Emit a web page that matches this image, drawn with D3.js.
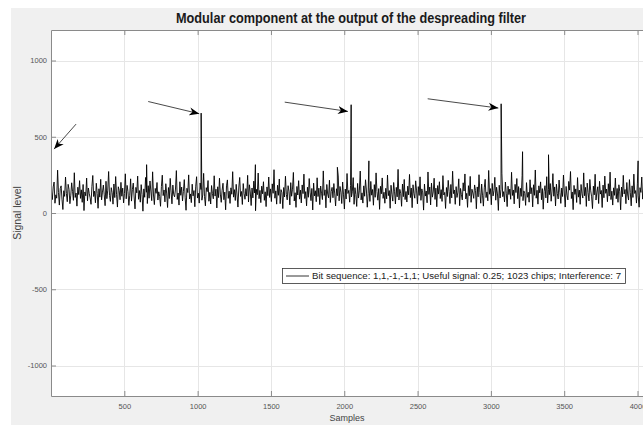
<!DOCTYPE html>
<html>
<head>
<meta charset="utf-8">
<script src="https://cdn.jsdelivr.net/npm/d3@7"></script>
<style>
  html, body { margin: 0; padding: 0; background: #ffffff; }
  svg { display: block; font-family: "Liberation Sans", Arial, sans-serif; }
</style>
</head>
<body>
<div id="chart"></div>
<script>
// despread output magnitude (one value every noiseStep samples)
const noiseStep = 6;
const noise = [
  142,88,171,203,64,119,97,281,133,52,160,178,91,23,146,109,236,127,74,188,
  155,61,117,198,140,83,264,102,131,45,169,121,212,96,152,70,187,16,138,113,
  229,80,164,126,99,57,175,246,108,143,67,195,128,31,159,104,221,86,137,183,
  119,48,208,94,150,272,115,76,166,134,58,190,101,239,123,39,172,149,87,201,
  110,163,66,128,257,93,181,141,50,116,224,78,154,196,105,27,168,132,242,90,
  147,71,186,121,12,158,103,233,136,62,179,97,210,144,81,270,118,55,161,129,
  200,85,139,107,44,174,248,114,151,73,192,125,36,167,95,227,137,60,183,120,
  106,157,278,89,131,52,205,116,170,79,142,219,100,18,162,134,250,92,125,68,
  189,112,147,41,176,238,98,130,65,197,154,84,118,260,107,47,166,140,213,77,
  135,59,180,127,93,244,111,156,33,172,101,228,124,70,149,195,87,137,21,178,
  217,96,143,63,165,123,271,104,153,82,188,118,39,170,233,109,141,56,193,128,
  90,160,111,247,72,185,138,49,164,99,209,131,15,155,120,262,94,148,68,176,
  126,205,83,139,42,171,114,236,102,158,75,191,129,284,97,145,58,182,116,223,
  61,153,134,29,167,105,241,122,86,179,143,53,199,110,156,266,79,133,37,174,
  118,212,91,150,66,184,127,255,95,140,47,169,103,226,137,81,161,20,196,112,
  146,74,231,108,163,55,177,130,88,276,115,152,34,187,124,99,215,69,141,168,
  100,193,125,46,159,113,243,80,174,137,62,203,119,26,157,92,259,128,148,71,
  181,105,139,232,57,166,121,43,194,98,145,275,86,132,65,178,110,218,151,38,
  129,170,76,207,117,154,51,186,103,263,141,84,160,24,175,126,230,96,136,64,
  162,93,249,114,147,31,182,123,78,200,139,59,168,106,286,85,155,130,44,190,
  107,220,88,141,72,176,119,253,101,164,35,185,127,97,211,150,60,173,115,237,
  83,158,132,19,190,111,144,67,269,122,170,53,196,104,138,228,89,163,41,180,
  124,205,95,153,76,245,118,135,30,167,108,214,142,62,187,99,274,127,151,57,
  173,102,137,224,48,161,120,86,198,144,256,92,129,37,179,113,240,70,156,131,
  96,184,148,28,171,106,251,133,64,190,117,45,165,221,101,138,80,279,123,160,
  54,194,112,147,234,84,169,125,17,182,98,156,261,107,140,73,203,130,42,176,
  121,157,90,267,115,151,60,188,134,226,94,173,33,162,109,245,81,145,127,50,
  199,103,136,71,218,126,166,40,185,116,282,97,149,58,178,132,204,87,160,25,
  142,179,99,238,66,155,120,193,77,144,258,110,171,46,189,128,92,216,135,63,
  164,108,249,131,39,174,117,86,207,150,272,95,138,22,181,122,158,69,232,104,
  150,57,187,126,98,263,113,168,43,196,134,79,220,145,106,29,176,119,254,85,
  137,172,62,208,124,148,36,183,100,242,129,157,74,192,111,268,88,143,52,165,
  116,229,93,161,70,185,139,21,170,107,247,125,154,61,200,118,85,219,133,47,
  178,102,255,128,147,65,191,112,38,166,135,236,91,159,76,277,120,144,58,186
];
// correlation peaks and the taller isolated spikes
const peakSamples = [1, 652, 1024, 1394, 1953, 2047, 2168, 3070, 3216, 3393, 4004];
const peakValues  = [415, 317, 655, 317, 300, 710, 342, 716, 402, 382, 342];

const xTicks = [500, 1000, 1500, 2000, 2500, 3000, 3500, 4000];
const yTicks = [-1000, -500, 0, 500, 1000];

// arrows in data units: [x from, y from, x to, y to]
const arrows = [
  [171, 583, 21, 419],
  [663, 731, 1011, 651],
  [1594, 727, 2025, 666],
  [2569, 749, 3051, 688]
];

const titleText = 'Modular component at the output of the despreading filter';
const legendText = 'Bit sequence: 1,1,-1,-1,1; Useful signal: 0.25; 1023 chips; Interference: 7';

const W = 643, H = 425;
const margin = { top: 30, left: 51, right: 651, bottom: 396 };

const svg = d3.select('#chart').append('svg')
  .attr('width', W)
  .attr('height', H);

// figure background
svg.append('rect').attr('x', 11).attr('y', 8).attr('width', W - 11).attr('height', H - 8).attr('fill', '#f0f0f0');

const x = d3.scaleLinear().domain([0, 4092]).range([margin.left, margin.right]);
const y = d3.scaleLinear().domain([-1200, 1200]).range([margin.bottom, margin.top]);

svg.append('rect')
  .attr('x', margin.left).attr('y', margin.top)
  .attr('width', margin.right - margin.left).attr('height', margin.bottom - margin.top)
  .attr('fill', '#ffffff');

// grid
const grid = svg.append('g').attr('stroke', '#e6e6e6').attr('stroke-width', 1);
grid.selectAll('.gx').data(xTicks).enter().append('line')
  .attr('x1', d => Math.round(x(d)) + 0.5).attr('x2', d => Math.round(x(d)) + 0.5)
  .attr('y1', margin.top).attr('y2', margin.bottom);
grid.selectAll('.gy').data(yTicks).enter().append('line')
  .attr('y1', d => Math.round(y(d)) + 0.5).attr('y2', d => Math.round(y(d)) + 0.5)
  .attr('x1', margin.left).attr('x2', margin.right);

// signal
const pts = noise.map((v, i) => ({ s: i * noiseStep + 3, v: v }))
  .concat(peakSamples.map((s, i) => ({ s: s, v: peakValues[i] })))
  .sort((a, b) => a.s - b.s);

svg.append('defs').append('clipPath').attr('id', 'clip')
  .append('rect')
  .attr('x', margin.left).attr('y', margin.top)
  .attr('width', margin.right - margin.left).attr('height', margin.bottom - margin.top);

svg.append('path')
  .datum(pts)
  .attr('clip-path', 'url(#clip)')
  .attr('fill', 'none')
  .attr('stroke', '#000000')
  .attr('stroke-width', 0.9)
  .attr('d', d3.line().x(d => x(d.s)).y(d => y(d.v)));

// axes (MATLAB style: box, inward ticks)
const axisColor = '#8a8a8a';
const fmt = d => String(d);
const xAxis = svg.append('g')
  .attr('transform', `translate(0,${margin.bottom})`)
  .call(d3.axisBottom(x).tickValues(xTicks).tickFormat(fmt).tickSizeInner(-5).tickSizeOuter(0).tickPadding(8));
const xTop = svg.append('g')
  .attr('transform', `translate(0,${margin.top})`)
  .call(d3.axisTop(x).tickValues(xTicks).tickSizeInner(-5).tickSizeOuter(0).tickFormat(''));
const yAxis = svg.append('g')
  .attr('transform', `translate(${margin.left},0)`)
  .call(d3.axisLeft(y).tickValues(yTicks).tickFormat(fmt).tickSizeInner(-5).tickSizeOuter(0).tickPadding(4));

[xAxis, xTop, yAxis].forEach(g => {
  g.select('.domain').attr('stroke', axisColor);
  g.selectAll('.tick line').attr('stroke', axisColor);
  g.selectAll('.tick text').attr('fill', '#555555').style('font-size', '7.5px');
});

// legend
const leg = svg.append('g');
leg.append('rect').attr('x', 282.5).attr('y', 268.5).attr('width', 343).attr('height', 15)
  .attr('fill', '#ffffff').attr('stroke', '#333333').attr('stroke-width', 0.8);
leg.append('line').attr('x1', 286).attr('x2', 309).attr('y1', 276).attr('y2', 276)
  .attr('stroke', '#000000').attr('stroke-width', 0.8);
leg.append('text').attr('x', 312).attr('y', 279)
  .attr('textLength', 309).attr('lengthAdjust', 'spacingAndGlyphs')
  .style('font-size', '8.5px').attr('fill', '#222222')
  .text(legendText);

// arrows
const marker = svg.select('defs').append('marker')
  .attr('id', 'head')
  .attr('viewBox', '0 -5 10 10')
  .attr('refX', 10).attr('refY', 0)
  .attr('markerUnits', 'userSpaceOnUse')
  .attr('markerWidth', 10).attr('markerHeight', 10)
  .attr('orient', 'auto');
marker.append('path').attr('d', 'M0,-4L10,0L0,4L3,0Z').attr('fill', '#000000');

svg.selectAll('.arrow').data(arrows).enter().append('line')
  .attr('x1', d => x(d[0])).attr('y1', d => y(d[1]))
  .attr('x2', d => x(d[2])).attr('y2', d => y(d[3]))
  .attr('stroke', '#1a1a1a').attr('stroke-width', 0.8)
  .attr('marker-end', 'url(#head)');

// labels
const cx = (margin.left + margin.right) / 2;
svg.append('text').attr('x', cx).attr('y', 23)
  .attr('text-anchor', 'middle')
  .attr('textLength', 350).attr('lengthAdjust', 'spacingAndGlyphs')
  .style('font-size', '14px').style('font-weight', 'bold').attr('fill', '#1a1a1a')
  .text(titleText);

svg.append('text').attr('x', cx - 4).attr('y', 421)
  .attr('text-anchor', 'middle')
  .style('font-size', '9px').attr('fill', '#444444')
  .text('Samples');

svg.append('text')
  .attr('transform', `translate(21,${(margin.top + margin.bottom) / 2}) rotate(-90)`)
  .attr('text-anchor', 'middle')
  .style('font-size', '10.5px').attr('fill', '#444444')
  .text('Signal level');
</script>
</body>
</html>
